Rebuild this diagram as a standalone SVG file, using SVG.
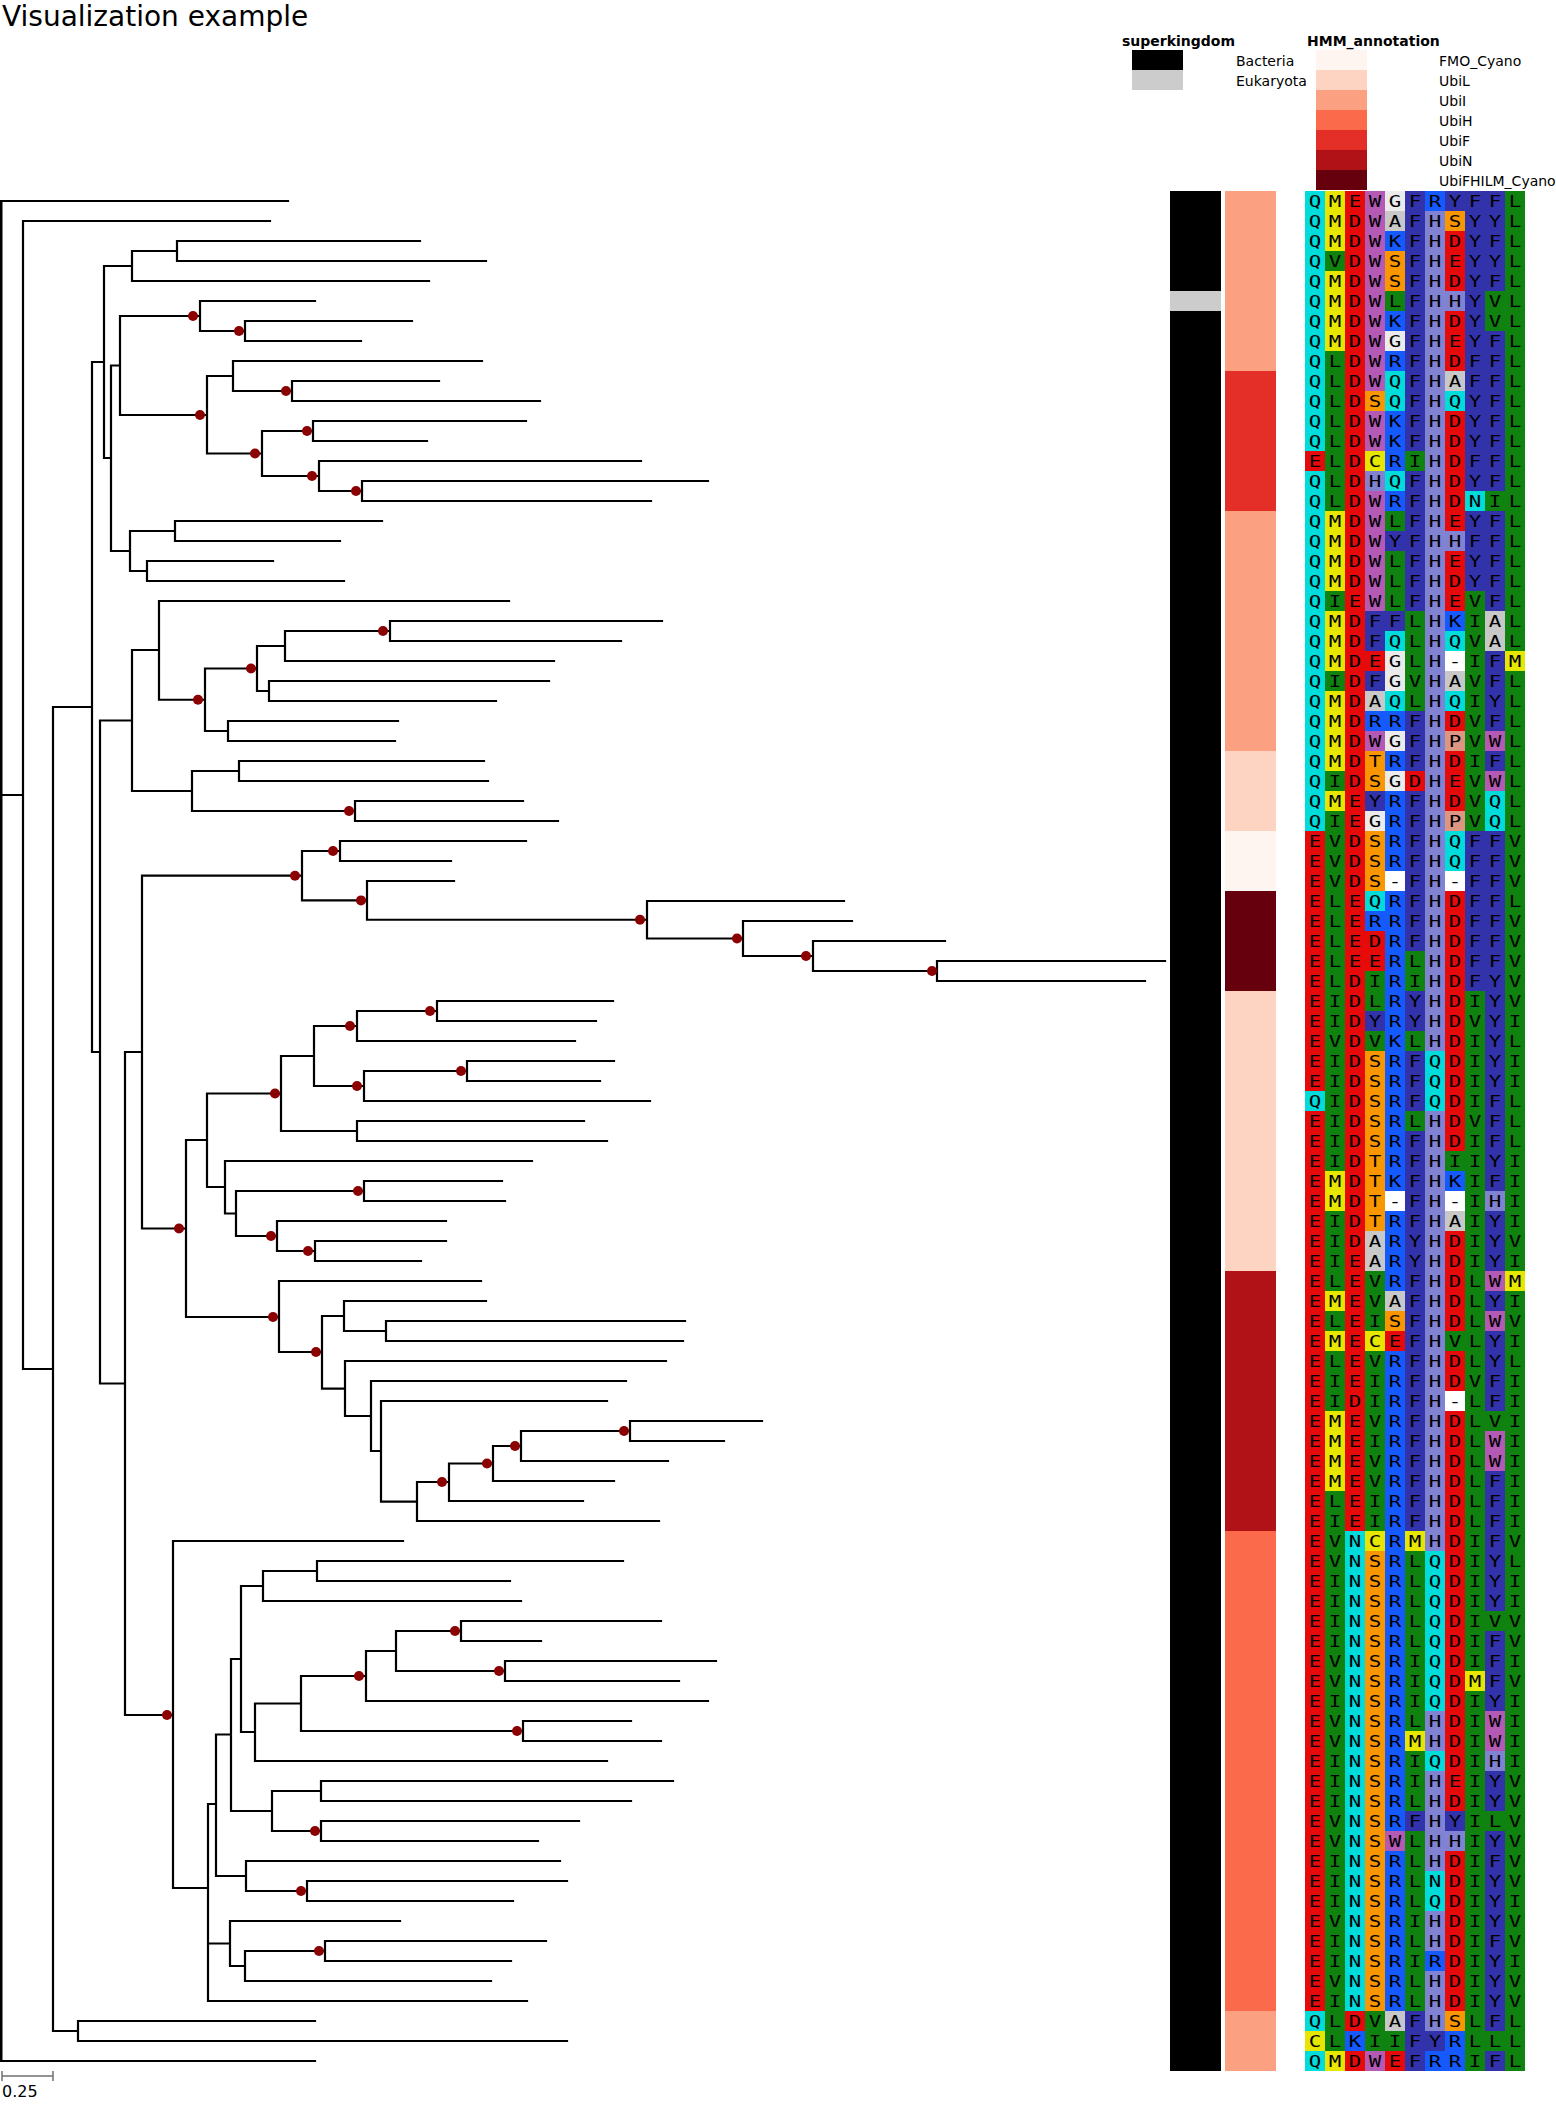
<svg xmlns="http://www.w3.org/2000/svg" width="1556" height="2122" viewBox="0 0 1556 2122">
<style>
.t{font-family:"DejaVu Sans","Liberation Sans",sans-serif;fill:#000}
.lg{font-size:14px}
.lb{font-size:14px;font-weight:bold}
.aa{font-family:"DejaVu Sans Mono","Liberation Mono",monospace;font-size:16px;letter-spacing:5.752px;fill:#000}
.br{fill:none;stroke:#000;stroke-width:2.2;stroke-linecap:square}
.dot{fill:#8b0000}
.r{fill:#e60a0a}.y{fill:#e6e600}.b{fill:#145aff}.o{fill:#fa9600}.n{fill:#3232aa}.c{fill:#00dcdc}.g{fill:#ebebeb}.G{fill:#0f820f}.a{fill:#c8c8c8}.w{fill:#b45ab4}.h{fill:#8282d2}.p{fill:#dc9682}.x{fill:#fff}
.c1{fill:#fff5f0}.c2{fill:#fdd4c2}.c3{fill:#fca082}.c4{fill:#fb6a4a}.c5{fill:#e32f27}.c6{fill:#b11218}.c7{fill:#67000d}
</style>
<rect width="1556" height="2122" fill="#fff"/>
<text class="t" x="2" y="26" font-size="28">Visualization example</text>

<g id="legend-superkingdom">
<text class="t lb" x="1122" y="46">superkingdom</text>
<rect x="1132" y="50" width="51" height="20" fill="#000"/>
<rect x="1132" y="70" width="51" height="20" fill="#cccccc"/>
<text class="t lg" x="1236" y="66">Bacteria</text>
<text class="t lg" x="1236" y="86">Eukaryota</text>
</g>
<g id="legend-hmm">
<text class="t lb" x="1307" y="46">HMM_annotation</text>
<rect class="c1" x="1316" y="50" width="51" height="20"/>
<rect class="c2" x="1316" y="70" width="51" height="20"/>
<rect class="c3" x="1316" y="90" width="51" height="20"/>
<rect class="c4" x="1316" y="110" width="51" height="20"/>
<rect class="c5" x="1316" y="130" width="51" height="20"/>
<rect class="c6" x="1316" y="150" width="51" height="20"/>
<rect class="c7" x="1316" y="170" width="51" height="20"/>
<text class="t lg" x="1439" y="66">FMO_Cyano</text>
<text class="t lg" x="1439" y="86">UbiL</text>
<text class="t lg" x="1439" y="106">UbiI</text>
<text class="t lg" x="1439" y="126">UbiH</text>
<text class="t lg" x="1439" y="146">UbiF</text>
<text class="t lg" x="1439" y="166">UbiN</text>
<text class="t lg" x="1439" y="186">UbiFHILM_Cyano</text>
</g>

<g id="tree-connectors">
<path d="M1 201V2061" fill="none" stroke="#000" stroke-width="3"/>
<path class="br" d="M1 201H288M1 795H23M23 221V1369M23 221H270M23 1369H53M53 707V2031M53 2031H78M78 2021V2041M78 2021H315M78 2041H567M1 2061H315
M53 707H92M92 362V1052M92 362H104M104 266V458M104 266H132M132 251V281M132 251H177M177 241V261M177 241H420M177 261H486M132 281H429
M104 458H111M111 365.5V551M111 365.5H120M120 316V415M120 316H200M200 301V331M200 301H315M200 331H245M245 321V341M245 321H412M245 341H361
M120 415H207M207 376V453.5M207 376H233M233 361V391M233 361H482M233 391H292M292 381V401M292 381H439M292 401H540
M207 453.5H262M262 431V476M262 431H313M313 421V441M313 421H526M313 441H427M262 476H319M319 461V491M319 461H641M319 491H362M362 481V501M362 481H708M362 501H651
M111 551H130M130 531V571M130 531H175M175 521V541M175 521H382M175 541H340M130 571H147M147 561V581M147 561H273M147 581H344
M92 1052H100M100 720.5V1383.5M100 720.5H132M132 650V791M132 650H159M159 601V699.75M159 601H509M159 699.75H205M205 668.5V731M205 668.5H257M257 646V691M257 646H285M285 631V661M285 631H390M390 621V641M390 621H662M390 641H621M285 661H554M257 691H269M269 681V701M269 681H549M269 701H496M205 731H228M228 721V741M228 721H398M228 741H395
M132 791H192M192 771V811M192 771H239M239 761V781M239 761H484M239 781H488M192 811H355M355 801V821M355 801H523M355 821H558
M100 1383.5H125M125 1052V1715M125 1052H142M142 875.7V1228.5M142 875.7H302M302 851V900.4M302 851H340M340 841V861M340 841H526M340 861H451M302 900.4H367M367 881V919.75M367 881H454M367 919.75H647M647 901V938.5M647 901H844M647 938.5H743M743 921V956M743 921H852M743 956H813M813 941V971M813 941H945M813 971H937M937 961V981M937 961H1165M937 981H1145
M142 1228.5H186M186 1140V1317M186 1140H207M207 1093.5V1187M207 1093.5H281M281 1056V1131M281 1056H314M314 1026V1086M314 1026H357M357 1011V1041M357 1041H575M357 1011H437M437 1001V1021M437 1001H613M437 1021H596M314 1086H364M364 1071V1101M364 1101H650M364 1071H467M467 1061V1081M467 1061H614M467 1081H600M281 1131H357M357 1121V1141M357 1121H584M357 1141H607
M207 1187H225M225 1161V1213.5M225 1161H532M225 1213.5H236M236 1191V1236M236 1191H364M364 1181V1201M364 1181H502M364 1201H505M236 1236H277M277 1221V1251M277 1221H446M277 1251H315M315 1241V1261M315 1241H446M315 1261H421
M186 1317H279M279 1281V1352M279 1281H481M279 1352H322M322 1316V1388.6M322 1316H344M344 1301V1331M344 1301H486M344 1331H386M386 1321V1341M386 1321H685M386 1341H683M322 1388.6H345M345 1361V1416M345 1361H666M345 1416H371M371 1381V1451M371 1381H626M371 1451H381M381 1401V1501.6M381 1401H607M381 1501.6H417M417 1482V1521M417 1521H659M417 1482H449M449 1463.5V1501M449 1501H583M449 1463.5H493M493 1446V1481M493 1481H614M493 1446H521M521 1431V1461M521 1461H668M521 1431H630M630 1421V1441M630 1421H762M630 1441H724
M125 1715H173M173 1541V1888M173 1541H403M173 1888H208M208 1804V2001M208 1804H216M216 1734.5V1876M216 1734.5H231M231 1659V1811M231 1659H241M241 1586V1732M241 1586H263M263 1571V1601M263 1601H521M263 1571H317M317 1561V1581M317 1561H623M317 1581H510
M241 1732H255M255 1703.5V1761M255 1761H607M255 1703.5H301M301 1676V1731M301 1676H366M366 1651V1701M366 1701H708M366 1651H396M396 1631V1671M396 1631H461M461 1621V1641M461 1621H661M461 1641H541M396 1671H505M505 1661V1681M505 1661H716M505 1681H679M301 1731H523M523 1721V1741M523 1721H631M523 1741H661
M231 1811H272M272 1791V1831M272 1791H321M321 1781V1801M321 1781H673M321 1801H631M272 1831H321M321 1821V1841M321 1821H579M321 1841H538M216 1876H246M246 1861V1891M246 1861H560M246 1891H307M307 1881V1901M307 1881H567M307 1901H513
M208 1943.5H230M230 1921V1966M230 1921H400M230 1966H245M245 1951V1981M245 1981H491M245 1951H325M325 1941V1961M325 1941H546M325 1961H511M208 2001H527"/>
</g>

<g id="support-nodes">
<circle class="dot" cx="193" cy="316" r="5"/><circle class="dot" cx="239" cy="331" r="5"/><circle class="dot" cx="286" cy="391" r="5"/><circle class="dot" cx="307" cy="431" r="5"/><circle class="dot" cx="312" cy="476" r="5"/><circle class="dot" cx="356" cy="491" r="5"/><circle class="dot" cx="255" cy="453.5" r="5"/><circle class="dot" cx="200" cy="415" r="5"/><circle class="dot" cx="383" cy="631" r="5"/><circle class="dot" cx="251" cy="668.5" r="5"/><circle class="dot" cx="198" cy="699.75" r="5"/><circle class="dot" cx="349" cy="811" r="5"/><circle class="dot" cx="295" cy="875.7" r="5"/><circle class="dot" cx="333" cy="851" r="5"/><circle class="dot" cx="361" cy="900.4" r="5"/><circle class="dot" cx="640" cy="919.75" r="5"/><circle class="dot" cx="737" cy="938.5" r="5"/><circle class="dot" cx="806" cy="956" r="5"/><circle class="dot" cx="932" cy="971" r="5"/><circle class="dot" cx="430" cy="1011" r="5"/><circle class="dot" cx="350" cy="1026" r="5"/><circle class="dot" cx="461" cy="1071" r="5"/><circle class="dot" cx="357" cy="1086" r="5"/><circle class="dot" cx="275" cy="1093.5" r="5"/><circle class="dot" cx="358" cy="1191" r="5"/><circle class="dot" cx="271" cy="1236" r="5"/><circle class="dot" cx="308" cy="1251" r="5"/><circle class="dot" cx="179" cy="1228.5" r="5"/><circle class="dot" cx="273" cy="1317" r="5"/><circle class="dot" cx="316" cy="1352" r="5"/><circle class="dot" cx="624" cy="1431" r="5"/><circle class="dot" cx="515" cy="1446" r="5"/><circle class="dot" cx="487" cy="1463.5" r="5"/><circle class="dot" cx="442" cy="1482" r="5"/><circle class="dot" cx="167" cy="1715" r="5"/><circle class="dot" cx="455" cy="1631" r="5"/><circle class="dot" cx="499" cy="1671" r="5"/><circle class="dot" cx="359" cy="1676" r="5"/><circle class="dot" cx="517" cy="1731" r="5"/><circle class="dot" cx="301" cy="1891" r="5"/><circle class="dot" cx="315" cy="1831" r="5"/><circle class="dot" cx="319" cy="1951" r="5"/>
</g>

<g id="scale-bar">
<path d="M2 2076H53M2 2071V2081M53 2071V2081" fill="none" stroke="#707070" stroke-width="1.5"/>
<text class="t" x="2" y="2097" font-size="16">0.25</text>
</g>

<g id="superkingdom-bar">
<rect x="1170" y="191" width="51" height="1880" fill="#000"/>
<rect x="1170" y="291" width="51" height="20" fill="#cccccc"/>
</g>

<g id="hmm-bar">
<rect class="c3" x="1225" y="191" width="51" height="180"/>
<rect class="c5" x="1225" y="371" width="51" height="140"/>
<rect class="c3" x="1225" y="511" width="51" height="240"/>
<rect class="c2" x="1225" y="751" width="51" height="80"/>
<rect class="c1" x="1225" y="831" width="51" height="60"/>
<rect class="c7" x="1225" y="891" width="51" height="100"/>
<rect class="c2" x="1225" y="991" width="51" height="280"/>
<rect class="c6" x="1225" y="1271" width="51" height="260"/>
<rect class="c4" x="1225" y="1531" width="51" height="480"/>
<rect class="c3" x="1225" y="2011" width="51" height="60"/>
</g>

<g id="alignment-bg">
<g transform="translate(1305 0)">
<rect class="c" y="191" width="20" height="1880"/>
<rect class="r" y="451" width="20" height="20"/><rect class="r" y="831" width="20" height="260"/><rect class="r" y="1111" width="20" height="900"/><rect class="y" y="2031" width="20" height="20"/>
</g>
<g transform="translate(1325 0)">
<rect class="G" y="191" width="20" height="1880"/>
<rect class="y" y="191" width="20" height="60"/><rect class="y" y="271" width="20" height="80"/><rect class="y" y="511" width="20" height="80"/><rect class="y" y="611" width="20" height="60"/><rect class="y" y="691" width="20" height="80"/><rect class="y" y="791" width="20" height="20"/><rect class="y" y="1171" width="20" height="40"/><rect class="y" y="1291" width="20" height="20"/><rect class="y" y="1331" width="20" height="20"/><rect class="y" y="1411" width="20" height="80"/><rect class="y" y="2051" width="20" height="20"/>
</g>
<g transform="translate(1345 0)">
<rect class="r" y="191" width="20" height="1880"/>
<rect class="c" y="1531" width="20" height="480"/><rect class="b" y="2031" width="20" height="20"/>
</g>
<g transform="translate(1365 0)">
<rect class="w" y="191" width="20" height="200"/><rect class="o" y="391" width="20" height="20"/><rect class="w" y="411" width="20" height="40"/><rect class="y" y="451" width="20" height="20"/><rect class="h" y="471" width="20" height="20"/><rect class="w" y="491" width="20" height="120"/><rect class="n" y="611" width="20" height="40"/><rect class="r" y="651" width="20" height="20"/><rect class="n" y="671" width="20" height="20"/><rect class="a" y="691" width="20" height="20"/><rect class="b" y="711" width="20" height="20"/><rect class="w" y="731" width="20" height="20"/><rect class="o" y="751" width="20" height="40"/><rect class="n" y="791" width="20" height="20"/><rect class="g" y="811" width="20" height="20"/><rect class="o" y="831" width="20" height="60"/><rect class="c" y="891" width="20" height="20"/><rect class="b" y="911" width="20" height="20"/><rect class="r" y="931" width="20" height="40"/><rect class="G" y="971" width="20" height="40"/><rect class="n" y="1011" width="20" height="20"/><rect class="G" y="1031" width="20" height="20"/><rect class="o" y="1051" width="20" height="180"/><rect class="a" y="1231" width="20" height="40"/><rect class="G" y="1271" width="20" height="60"/><rect class="y" y="1331" width="20" height="20"/><rect class="G" y="1351" width="20" height="180"/><rect class="y" y="1531" width="20" height="20"/><rect class="o" y="1551" width="20" height="460"/><rect class="G" y="2011" width="20" height="40"/><rect class="w" y="2051" width="20" height="20"/>
</g>
<g transform="translate(1385 0)">
<rect class="b" y="191" width="20" height="1880"/>
<rect class="g" y="191" width="20" height="20"/><rect class="a" y="211" width="20" height="20"/><rect class="o" y="251" width="20" height="40"/><rect class="G" y="291" width="20" height="20"/><rect class="g" y="331" width="20" height="20"/><rect class="c" y="371" width="20" height="40"/><rect class="c" y="471" width="20" height="20"/><rect class="G" y="511" width="20" height="20"/><rect class="n" y="531" width="20" height="20"/><rect class="G" y="551" width="20" height="60"/><rect class="n" y="611" width="20" height="20"/><rect class="c" y="631" width="20" height="20"/><rect class="g" y="651" width="20" height="40"/><rect class="c" y="691" width="20" height="20"/><rect class="g" y="731" width="20" height="20"/><rect class="g" y="771" width="20" height="20"/><rect class="x" y="871" width="20" height="20"/><rect class="x" y="1191" width="20" height="20"/><rect class="a" y="1291" width="20" height="20"/><rect class="o" y="1311" width="20" height="20"/><rect class="r" y="1331" width="20" height="20"/><rect class="w" y="1831" width="20" height="20"/><rect class="a" y="2011" width="20" height="20"/><rect class="G" y="2031" width="20" height="20"/><rect class="r" y="2051" width="20" height="20"/>
</g>
<g transform="translate(1405 0)">
<rect class="n" y="191" width="20" height="1880"/>
<rect class="G" y="451" width="20" height="20"/><rect class="G" y="611" width="20" height="100"/><rect class="G" y="951" width="20" height="40"/><rect class="G" y="1031" width="20" height="20"/><rect class="G" y="1111" width="20" height="20"/><rect class="G" y="1551" width="20" height="180"/><rect class="G" y="1751" width="20" height="60"/><rect class="G" y="1831" width="20" height="180"/><rect class="r" y="771" width="20" height="20"/><rect class="y" y="1531" width="20" height="20"/><rect class="y" y="1731" width="20" height="20"/>
</g>
<g transform="translate(1425 0)">
<rect class="h" y="191" width="20" height="1880"/>
<rect class="b" y="191" width="20" height="20"/><rect class="c" y="1051" width="20" height="60"/><rect class="c" y="1551" width="20" height="160"/><rect class="c" y="1751" width="20" height="20"/><rect class="c" y="1871" width="20" height="40"/><rect class="b" y="1951" width="20" height="20"/><rect class="n" y="2031" width="20" height="20"/><rect class="b" y="2051" width="20" height="20"/>
</g>
<g transform="translate(1445 0)">
<rect class="r" y="191" width="20" height="1880"/>
<rect class="n" y="191" width="20" height="20"/><rect class="o" y="211" width="20" height="20"/><rect class="h" y="291" width="20" height="20"/><rect class="a" y="371" width="20" height="20"/><rect class="c" y="391" width="20" height="20"/><rect class="h" y="531" width="20" height="20"/><rect class="b" y="611" width="20" height="20"/><rect class="c" y="631" width="20" height="20"/><rect class="x" y="651" width="20" height="20"/><rect class="a" y="671" width="20" height="20"/><rect class="c" y="691" width="20" height="20"/><rect class="p" y="731" width="20" height="20"/><rect class="p" y="811" width="20" height="20"/><rect class="c" y="831" width="20" height="40"/><rect class="x" y="871" width="20" height="20"/><rect class="G" y="1151" width="20" height="20"/><rect class="b" y="1171" width="20" height="20"/><rect class="x" y="1191" width="20" height="20"/><rect class="a" y="1211" width="20" height="20"/><rect class="G" y="1331" width="20" height="20"/><rect class="x" y="1391" width="20" height="20"/><rect class="n" y="1811" width="20" height="20"/><rect class="h" y="1831" width="20" height="20"/><rect class="o" y="2011" width="20" height="20"/><rect class="b" y="2031" width="20" height="40"/>
</g>
<g transform="translate(1465 0)">
<rect class="G" y="191" width="20" height="1880"/>
<rect class="n" y="191" width="20" height="300"/><rect class="c" y="491" width="20" height="20"/><rect class="n" y="511" width="20" height="80"/><rect class="n" y="831" width="20" height="160"/><rect class="y" y="1671" width="20" height="20"/>
</g>
<g transform="translate(1485 0)">
<rect class="n" y="191" width="20" height="1880"/>
<rect class="G" y="291" width="20" height="40"/><rect class="G" y="491" width="20" height="20"/><rect class="G" y="1411" width="20" height="20"/><rect class="G" y="1611" width="20" height="20"/><rect class="G" y="1811" width="20" height="20"/><rect class="G" y="2031" width="20" height="20"/><rect class="a" y="611" width="20" height="40"/><rect class="w" y="731" width="20" height="20"/><rect class="w" y="771" width="20" height="20"/><rect class="w" y="1271" width="20" height="20"/><rect class="w" y="1311" width="20" height="20"/><rect class="w" y="1431" width="20" height="40"/><rect class="w" y="1711" width="20" height="40"/><rect class="c" y="791" width="20" height="40"/><rect class="h" y="1191" width="20" height="20"/><rect class="h" y="1751" width="20" height="20"/>
</g>
<g transform="translate(1505 0)">
<rect class="G" y="191" width="20" height="1880"/>
<rect class="y" y="651" width="20" height="20"/><rect class="y" y="1271" width="20" height="20"/>
</g>
</g>

<g id="alignment-text" transform="scale(1.3 1)">
<text class="aa" x="1006.72" y="207">QMEWGFRYFFL</text>
<text class="aa" x="1006.72" y="227">QMDWAFHSYYL</text>
<text class="aa" x="1006.72" y="247">QMDWKFHDYFL</text>
<text class="aa" x="1006.72" y="267">QVDWSFHEYYL</text>
<text class="aa" x="1006.72" y="287">QMDWSFHDYFL</text>
<text class="aa" x="1006.72" y="307">QMDWLFHHYVL</text>
<text class="aa" x="1006.72" y="327">QMDWKFHDYVL</text>
<text class="aa" x="1006.72" y="347">QMDWGFHEYFL</text>
<text class="aa" x="1006.72" y="367">QLDWRFHDFFL</text>
<text class="aa" x="1006.72" y="387">QLDWQFHAFFL</text>
<text class="aa" x="1006.72" y="407">QLDSQFHQYFL</text>
<text class="aa" x="1006.72" y="427">QLDWKFHDYFL</text>
<text class="aa" x="1006.72" y="447">QLDWKFHDYFL</text>
<text class="aa" x="1006.72" y="467">ELDCRIHDFFL</text>
<text class="aa" x="1006.72" y="487">QLDHQFHDYFL</text>
<text class="aa" x="1006.72" y="507">QLDWRFHDNIL</text>
<text class="aa" x="1006.72" y="527">QMDWLFHEYFL</text>
<text class="aa" x="1006.72" y="547">QMDWYFHHFFL</text>
<text class="aa" x="1006.72" y="567">QMDWLFHEYFL</text>
<text class="aa" x="1006.72" y="587">QMDWLFHDYFL</text>
<text class="aa" x="1006.72" y="607">QIEWLFHEVFL</text>
<text class="aa" x="1006.72" y="627">QMDFFLHKIAL</text>
<text class="aa" x="1006.72" y="647">QMDFQLHQVAL</text>
<text class="aa" x="1006.72" y="667">QMDEGLH-IFM</text>
<text class="aa" x="1006.72" y="687">QIDFGVHAVFL</text>
<text class="aa" x="1006.72" y="707">QMDAQLHQIYL</text>
<text class="aa" x="1006.72" y="727">QMDRRFHDVFL</text>
<text class="aa" x="1006.72" y="747">QMDWGFHPVWL</text>
<text class="aa" x="1006.72" y="767">QMDTRFHDIFL</text>
<text class="aa" x="1006.72" y="787">QIDSGDHEVWL</text>
<text class="aa" x="1006.72" y="807">QMEYRFHDVQL</text>
<text class="aa" x="1006.72" y="827">QIEGRFHPVQL</text>
<text class="aa" x="1006.72" y="847">EVDSRFHQFFV</text>
<text class="aa" x="1006.72" y="867">EVDSRFHQFFV</text>
<text class="aa" x="1006.72" y="887">EVDS-FH-FFV</text>
<text class="aa" x="1006.72" y="907">ELEQRFHDFFL</text>
<text class="aa" x="1006.72" y="927">ELERRFHDFFV</text>
<text class="aa" x="1006.72" y="947">ELEDRFHDFFV</text>
<text class="aa" x="1006.72" y="967">ELEERLHDFFV</text>
<text class="aa" x="1006.72" y="987">ELDIRIHDFYV</text>
<text class="aa" x="1006.72" y="1007">EIDLRYHDIYV</text>
<text class="aa" x="1006.72" y="1027">EIDYRYHDVYI</text>
<text class="aa" x="1006.72" y="1047">EVDVKLHDIYL</text>
<text class="aa" x="1006.72" y="1067">EIDSRFQDIYI</text>
<text class="aa" x="1006.72" y="1087">EIDSRFQDIYI</text>
<text class="aa" x="1006.72" y="1107">QIDSRFQDIFL</text>
<text class="aa" x="1006.72" y="1127">EIDSRLHDVFL</text>
<text class="aa" x="1006.72" y="1147">EIDSRFHDIFL</text>
<text class="aa" x="1006.72" y="1167">EIDTRFHIIYI</text>
<text class="aa" x="1006.72" y="1187">EMDTKFHKIFI</text>
<text class="aa" x="1006.72" y="1207">EMDT-FH-IHI</text>
<text class="aa" x="1006.72" y="1227">EIDTRFHAIYI</text>
<text class="aa" x="1006.72" y="1247">EIDARYHDIYV</text>
<text class="aa" x="1006.72" y="1267">EIEARYHDIYI</text>
<text class="aa" x="1006.72" y="1287">ELEVRFHDLWM</text>
<text class="aa" x="1006.72" y="1307">EMEVAFHDLYI</text>
<text class="aa" x="1006.72" y="1327">ELEISFHDLWV</text>
<text class="aa" x="1006.72" y="1347">EMECEFHVLYI</text>
<text class="aa" x="1006.72" y="1367">ELEVRFHDLYL</text>
<text class="aa" x="1006.72" y="1387">EIEIRFHDVFI</text>
<text class="aa" x="1006.72" y="1407">EIDIRFH-LFI</text>
<text class="aa" x="1006.72" y="1427">EMEVRFHDLVI</text>
<text class="aa" x="1006.72" y="1447">EMEIRFHDLWI</text>
<text class="aa" x="1006.72" y="1467">EMEVRFHDLWI</text>
<text class="aa" x="1006.72" y="1487">EMEVRFHDLFI</text>
<text class="aa" x="1006.72" y="1507">ELEIRFHDLFI</text>
<text class="aa" x="1006.72" y="1527">EIEIRFHDLFI</text>
<text class="aa" x="1006.72" y="1547">EVNCRMHDIFV</text>
<text class="aa" x="1006.72" y="1567">EVNSRLQDIYL</text>
<text class="aa" x="1006.72" y="1587">EINSRLQDIYI</text>
<text class="aa" x="1006.72" y="1607">EINSRLQDIYI</text>
<text class="aa" x="1006.72" y="1627">EINSRLQDIVV</text>
<text class="aa" x="1006.72" y="1647">EINSRLQDIFV</text>
<text class="aa" x="1006.72" y="1667">EVNSRIQDIFI</text>
<text class="aa" x="1006.72" y="1687">EVNSRIQDMFV</text>
<text class="aa" x="1006.72" y="1707">EINSRIQDIYI</text>
<text class="aa" x="1006.72" y="1727">EVNSRLHDIWI</text>
<text class="aa" x="1006.72" y="1747">EVNSRMHDIWI</text>
<text class="aa" x="1006.72" y="1767">EINSRIQDIHI</text>
<text class="aa" x="1006.72" y="1787">EINSRIHEIYV</text>
<text class="aa" x="1006.72" y="1807">EINSRLHDIYV</text>
<text class="aa" x="1006.72" y="1827">EVNSRFHYILV</text>
<text class="aa" x="1006.72" y="1847">EVNSWLHHIYV</text>
<text class="aa" x="1006.72" y="1867">EINSRLHDIFV</text>
<text class="aa" x="1006.72" y="1887">EINSRLNDIYV</text>
<text class="aa" x="1006.72" y="1907">EINSRLQDIYI</text>
<text class="aa" x="1006.72" y="1927">EVNSRIHDIYV</text>
<text class="aa" x="1006.72" y="1947">EINSRLHDIFV</text>
<text class="aa" x="1006.72" y="1967">EINSRIRDIYI</text>
<text class="aa" x="1006.72" y="1987">EVNSRLHDIYV</text>
<text class="aa" x="1006.72" y="2007">EINSRLHDIYV</text>
<text class="aa" x="1006.72" y="2027">QLDVAFHSLFL</text>
<text class="aa" x="1006.72" y="2047">CLKIIFYRLLL</text>
<text class="aa" x="1006.72" y="2067">QMDWEFRRIFL</text>
</g>
</svg>
